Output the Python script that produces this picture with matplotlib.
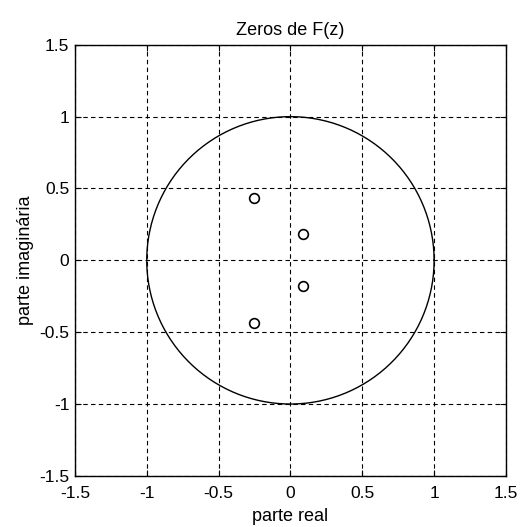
import numpy as np
import matplotlib
matplotlib.use("Agg")
import matplotlib.pyplot as plt

plt.rcParams['font.family'] = ['Liberation Sans', 'DejaVu Sans']

# Zeros of F(z)
zero_re = [-0.25, -0.25, 0.09, 0.09]
zero_im = [0.435, -0.435, 0.18, -0.18]
ticks = [-1.5, -1, -0.5, 0, 0.5, 1, 1.5]
tick_labels = ['-1.5', '-1', '-0.5', '0', '0.5', '1', '1.5']

fig = plt.figure(figsize=(5.2, 5.27), dpi=100)
ax = fig.add_axes([0.144, 0.097, 0.829, 0.818])

# unit circle
t = np.linspace(0, 2 * np.pi, 400)
ax.plot(np.cos(t), np.sin(t), color='black', linewidth=1.0)

ax.plot(zero_re, zero_im, linestyle='none', marker='o', markersize=7,
        markerfacecolor='none', markeredgecolor='black', markeredgewidth=1.2)

ax.set_xlim(-1.5, 1.5)
ax.set_ylim(-1.5, 1.5)
ax.set_xticks(ticks)
ax.set_xticklabels(tick_labels)
ax.set_yticks(ticks)
ax.set_yticklabels(tick_labels)
ax.tick_params(direction='in', length=4, labelsize=12.5, color='black',
               top=True, right=True)
ax.tick_params(axis='x', pad=7)
ax.tick_params(axis='y', pad=4)
ax.grid(True, linestyle=(0, (4, 3)), color='black', linewidth=0.8)
for s in ax.spines.values():
    s.set_linewidth(1.0)

ax.set_title('Zeros de F(z)', fontsize=13, pad=7)
ax.set_xlabel('parte real', fontsize=13, labelpad=5)
ax.set_ylabel('parte imaginária', fontsize=13, labelpad=4)

fig.savefig('out.png', dpi=100)
